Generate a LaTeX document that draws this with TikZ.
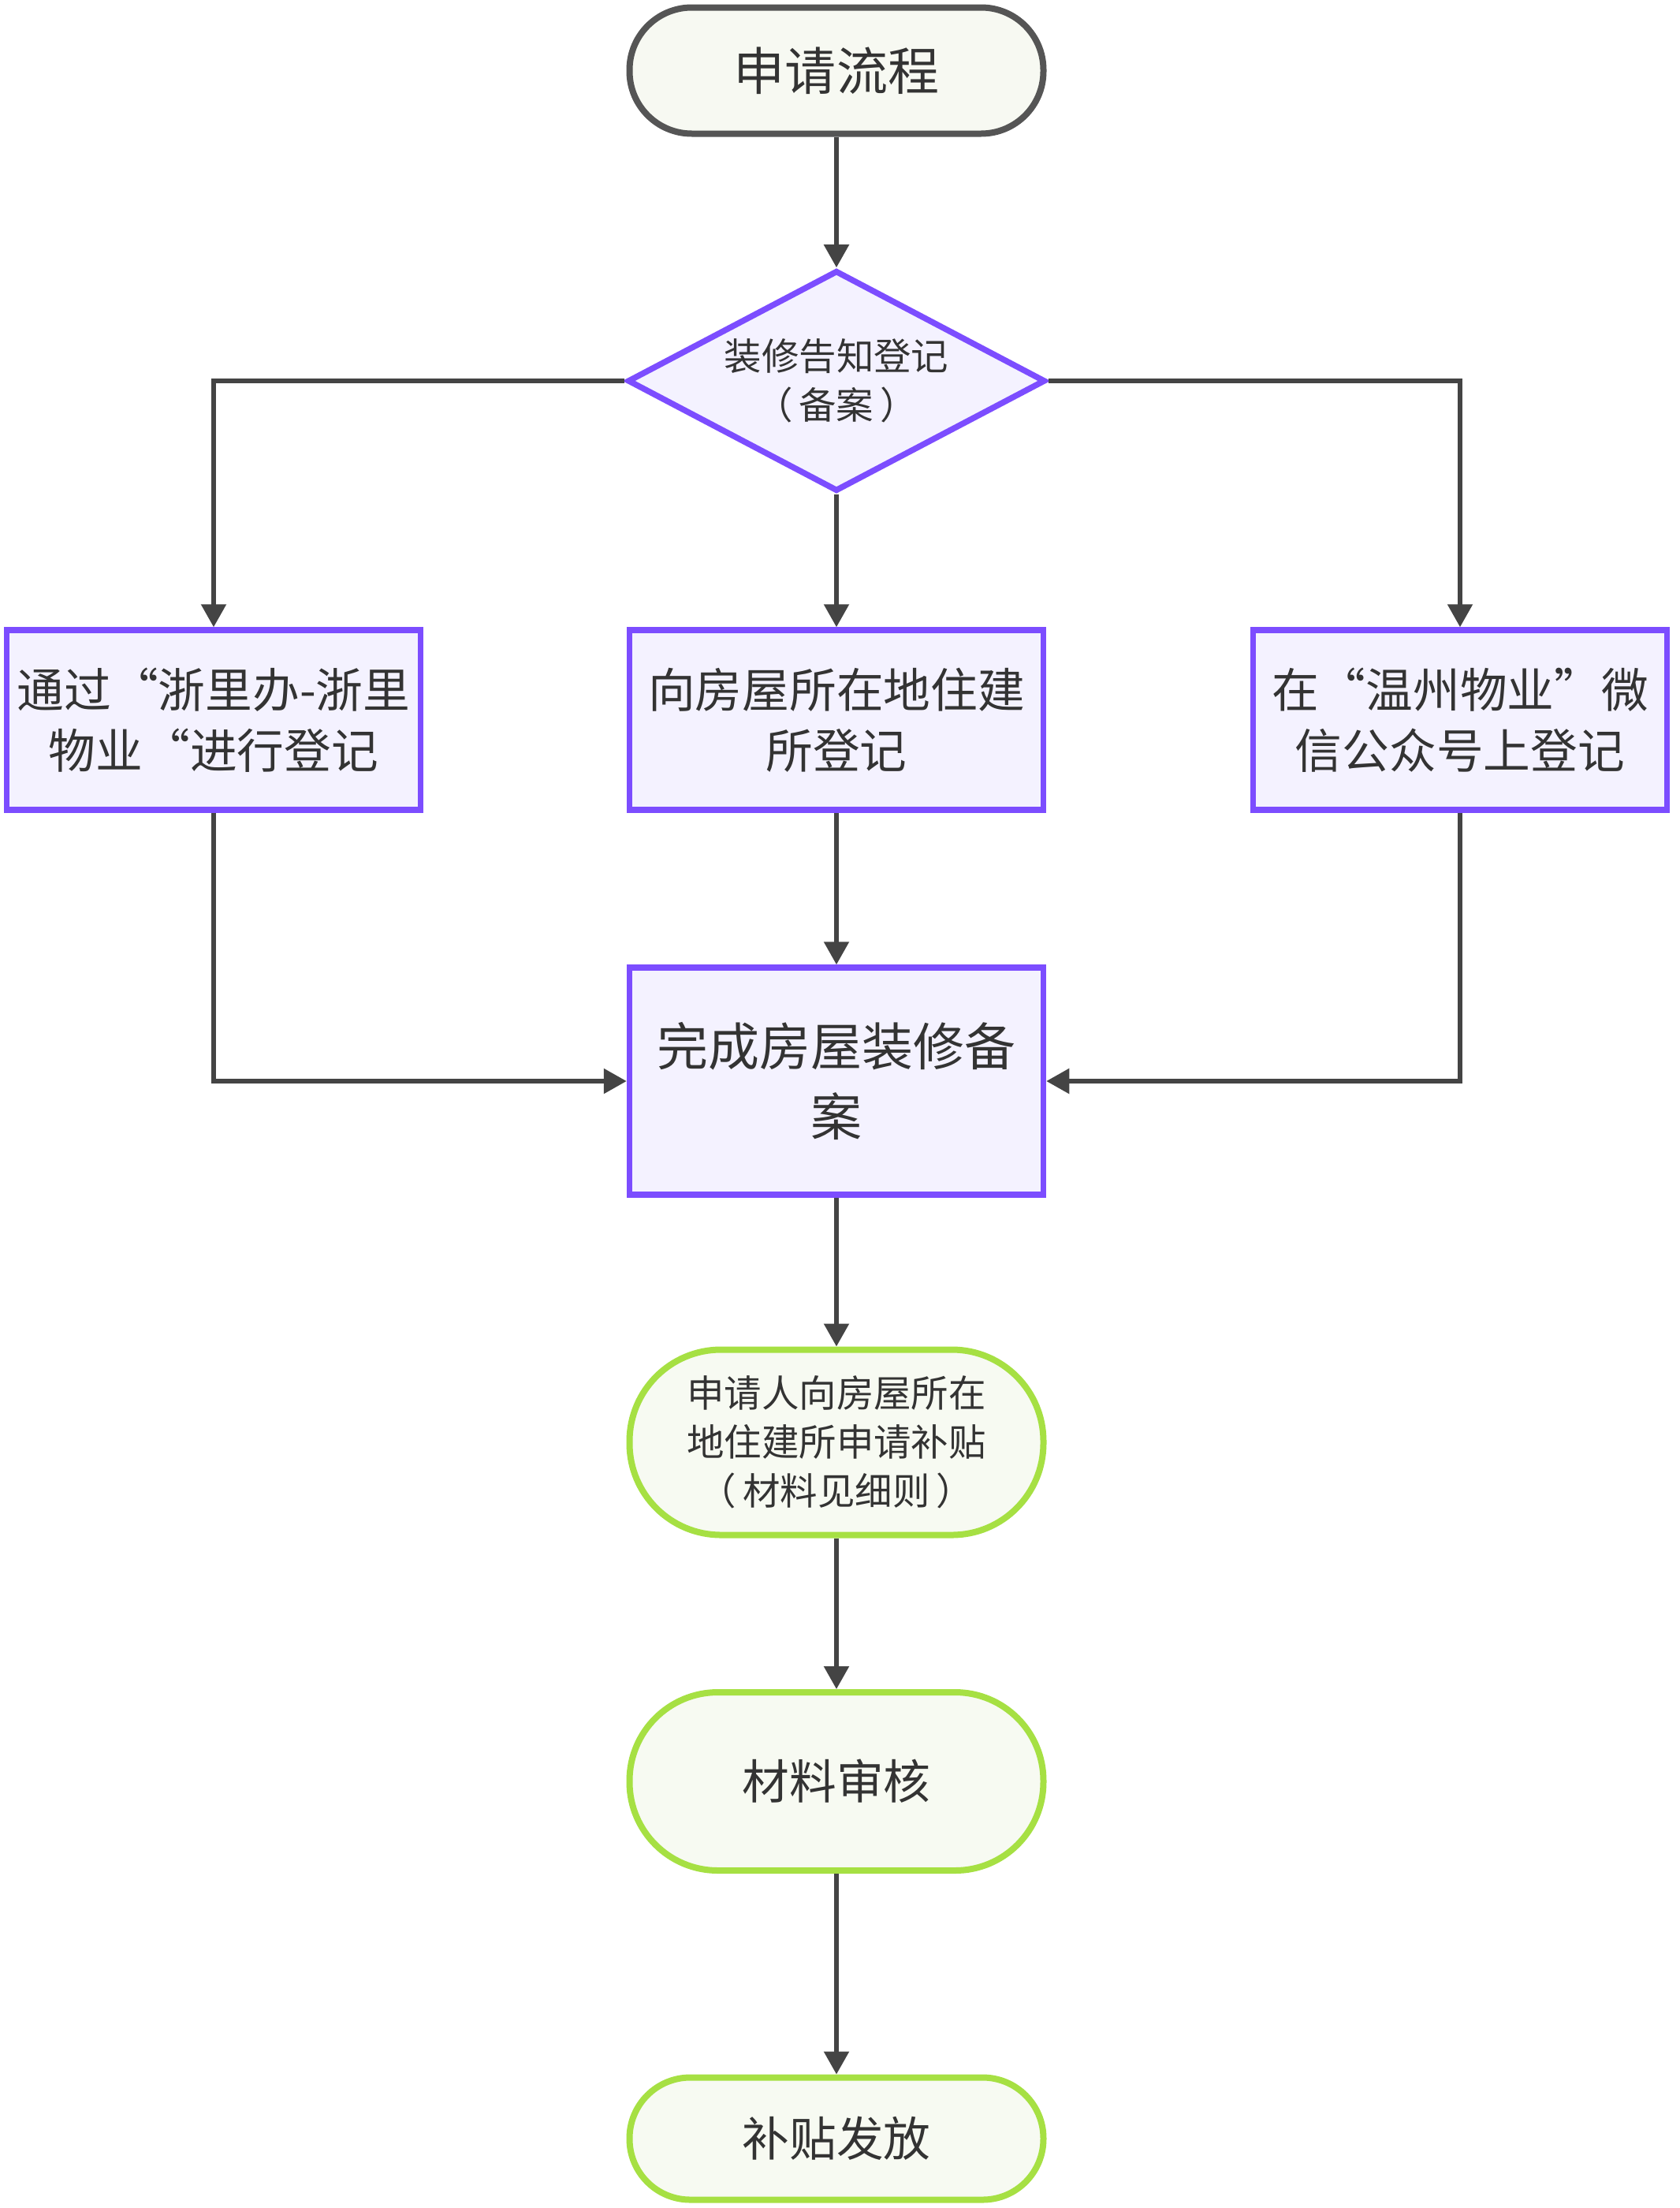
\documentclass[tikz,border=0pt]{standalone}
\usepackage{fontspec}
\newfontfamily\cjk{Noto Sans CJK SC}
\usetikzlibrary{arrows.meta,positioning,shapes.geometric}

\definecolor{linegray}{HTML}{444444}
\definecolor{textgray}{HTML}{333333}
\definecolor{startgray}{HTML}{555555}
\definecolor{startfill}{HTML}{F7F9F2}
\definecolor{purpleline}{HTML}{7C4DFF}
\definecolor{purplefill}{HTML}{F4F2FF}
\definecolor{greenline}{HTML}{A6E043}
\definecolor{greenfill}{HTML}{F7FAF2}

\begin{document}
\begin{tikzpicture}[
    every node/.style={text=textgray, align=center, inner sep=0pt},
    bigtext/.style={font=\cjk\fontsize{18.5pt}{25.3pt}\selectfont},
    midtext/.style={font=\cjk\fontsize{17pt}{21.8pt}\selectfont},
    smalltext/.style={font=\cjk\fontsize{13.5pt}{17.6pt}\selectfont},
    startnode/.style={draw=startgray, fill=startfill, line width=0.08cm, minimum width=5.25cm, minimum height=1.6cm, rounded corners=0.79cm},
    checknode/.style={diamond, draw=purpleline, fill=purplefill, line width=0.075cm, aspect=1.91, minimum width=5.3cm, minimum height=2.8cm},
    stepbox/.style={draw=purpleline, fill=purplefill, line width=0.075cm, minimum width=5.25cm},
    endnode/.style={draw=greenline, fill=greenfill, line width=0.08cm, minimum width=5.25cm},
    flow/.style={draw=linegray, line width=0.055cm, -{Triangle[length=0.29cm,width=0.31cm]}}
  ]
  % \clip (0,0) rectangle (21.31,-28);
  \useasboundingbox (0,0) rectangle (21.31,-28);

  % Drawing node start
  \node [startnode, bigtext] (start) at (10.61,-0.895) {申请流程};%

  % Drawing node notice
  \node [checknode, smalltext] (notice) at (10.61,-4.83) {装修告知登记\\（\hspace{0.08cm}备案\hspace{0.08cm}）};%

  % Drawing node zlb
  \node [stepbox, midtext, minimum height=2.28cm] (zlb) at (2.71,-9.13) {通过“浙里办-浙里\\物业“进行登记};%

  % Drawing node office
  \node [stepbox, midtext, minimum height=2.28cm] (office) at (10.61,-9.13) {向房屋所在地住建\\所登记};%

  % Drawing node wechat
  \node [stepbox, midtext, minimum height=2.28cm] (wechat) at (18.52,-9.13) {在“温州物业”微\\信公众号上登记};%

  % Drawing node done
  \node [stepbox, bigtext, minimum height=2.88cm] (done) at (10.61,-13.71) {完成房屋装修备\\案};%

  % Drawing node apply
  \node [endnode, smalltext, minimum height=2.35cm, rounded corners=1.16cm] (apply) at (10.61,-18.29) {申请人向房屋所在\\地住建所申请补贴\\（\hspace{0.08cm}材料见细则\hspace{0.08cm}）};%

  % Drawing node review
  \node [endnode, midtext, minimum height=2.26cm, rounded corners=1.12cm] (review) at (10.61,-22.59) {材料审核};%

  % Drawing node pay
  \node [endnode, midtext, minimum height=1.55cm, rounded corners=0.77cm] (pay) at (10.61,-27.12) {补贴发放};%

  % Drawing arrow start notice
  \draw [flow] (start) -- (notice);%

  % Drawing arrow notice zlb
  \draw [flow] (notice.west) -| (zlb.north);%

  % Drawing arrow notice office
  \draw [flow] (notice) -- (office);%

  % Drawing arrow notice wechat
  \draw [flow] (notice.east) -| (wechat.north);%

  % Drawing arrow zlb done
  \draw [flow] (zlb.south) |- (done.west);%

  % Drawing arrow office done
  \draw [flow] (office) -- (done);%

  % Drawing arrow wechat done
  \draw [flow] (wechat.south) |- (done.east);%

  % Drawing arrow done apply
  \draw [flow] (done) -- (apply);%

  % Drawing arrow apply review
  \draw [flow] (apply) -- (review);%

  % Drawing arrow review pay
  \draw [flow] (review) -- (pay);%
\end{tikzpicture}
\end{document}
